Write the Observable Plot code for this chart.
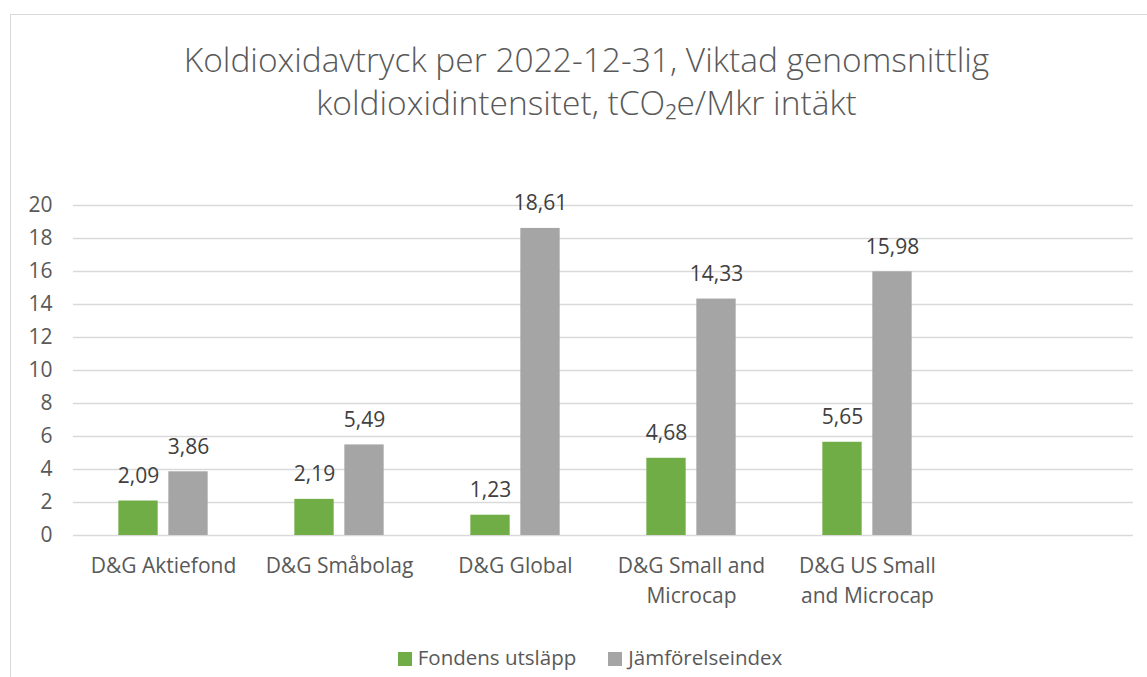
<!DOCTYPE html>
<html><head><meta charset="utf-8">
<script src="https://cdn.jsdelivr.net/npm/d3@7"></script>
<script src="https://cdn.jsdelivr.net/npm/@observablehq/plot@0.6"></script>
<style>
html,body{margin:0;padding:0;background:#fff;width:1147px;height:677px;overflow:hidden;font-family:"Open Sans",sans-serif;}
#frame{position:absolute;left:10px;top:14px;width:1153px;height:700px;border:1.5px solid #d9d9d9;box-sizing:border-box;}
#title{position:absolute;left:10px;width:1153px;top:38px;text-align:center;font-size:33.5px;line-height:43px;color:#595959;font-weight:300;}
#chart{position:absolute;left:0;top:185px;}
#legend{position:absolute;left:0;width:1180px;top:643px;text-align:center;font-size:20.5px;color:#595959;}
.sw{display:inline-block;width:14px;height:14px;margin-right:6px;vertical-align:-1px;}
.item{margin:0 16px;}
</style></head>
<body>
<div id="frame"></div>
<div id="title">Koldioxidavtryck per 2022-12-31, Viktad genomsnittlig<br>koldioxidintensitet, tCO₂e/Mkr intäkt</div>
<div id="chart"></div>
<div id="legend"></div>
<script>
const categories = ["D&G Aktiefond", "D&G Småbolag", "D&G Global", "D&G Small and Microcap", "D&G US Small and Microcap", "(tom)"];
const tickLabels = ["D&G Aktiefond", "D&G Småbolag", "D&G Global", "D&G Small and\nMicrocap", "D&G US Small\nand Microcap", ""];
const fondensUtslapp = [2.09, 2.19, 1.23, 4.68, 5.65];
const jamforelseindex = [3.86, 5.49, 18.61, 14.33, 15.98];
const seriesNames = ["Fondens utsläpp", "Jämförelseindex"];
const seriesColors = ["#70ad47", "#a5a5a5"];
const yTicks = [0, 2, 4, 6, 8, 10, 12, 14, 16, 18, 20];

const fmt = v => v.toFixed(2).replace(".", ",");
const dataA = fondensUtslapp.map((v, i) => ({cat: categories[i], value: v}));
const dataB = jamforelseindex.map((v, i) => ({cat: categories[i], value: v}));

const width = 1147, height = 440;
const mL = 73, mR = 14;
const band = (width - mL - mR) / categories.length;
const barW = 40, gap = 10;
const half = band / 2;
const fs = 21;

const chart = Plot.plot({
  width, height,
  marginLeft: mL, marginRight: mR, marginTop: 20, marginBottom: 90,
  style: {color: "#595959", fontFamily: "'Open Sans', sans-serif", background: "transparent"},
  x: {domain: categories, padding: 0},
  y: {domain: [0, 20]},
  marks: [
    Plot.gridY(yTicks, {stroke: "#d9d9d9", strokeOpacity: 1, strokeWidth: 1.3}),
    Plot.axisY(yTicks, {tickSize: 0, tickPadding: 21, fontSize: fs, label: null}),
    Plot.axisX({tickSize: 0, tickPadding: 17, fontSize: fs, lineHeight: 1.4, label: null,
      tickFormat: d => tickLabels[categories.indexOf(d)]}),
    Plot.barY(dataA, {x: "cat", y: "value", fill: seriesColors[0],
      insetLeft: half - gap / 2 - barW, insetRight: half + gap / 2}),
    Plot.barY(dataB, {x: "cat", y: "value", fill: seriesColors[1],
      insetLeft: half + gap / 2, insetRight: half - gap / 2 - barW}),
    Plot.text(dataA, {x: "cat", y: "value", text: d => fmt(d.value), dx: -(gap / 2 + barW / 2), dy: -25,
      fontSize: fs, fill: "#404040"}),
    Plot.text(dataB, {x: "cat", y: "value", text: d => fmt(d.value), dx: (gap / 2 + barW / 2), dy: -25,
      fontSize: fs, fill: "#404040"})
  ]
});
document.getElementById("chart").appendChild(chart);

const legend = document.getElementById("legend");
seriesNames.forEach((n, i) => {
  const s = document.createElement("span");
  s.className = "item";
  s.innerHTML = `<span class="sw" style="background:${seriesColors[i]}"></span>${n}`;
  legend.appendChild(s);
});
</script>
</body></html>
